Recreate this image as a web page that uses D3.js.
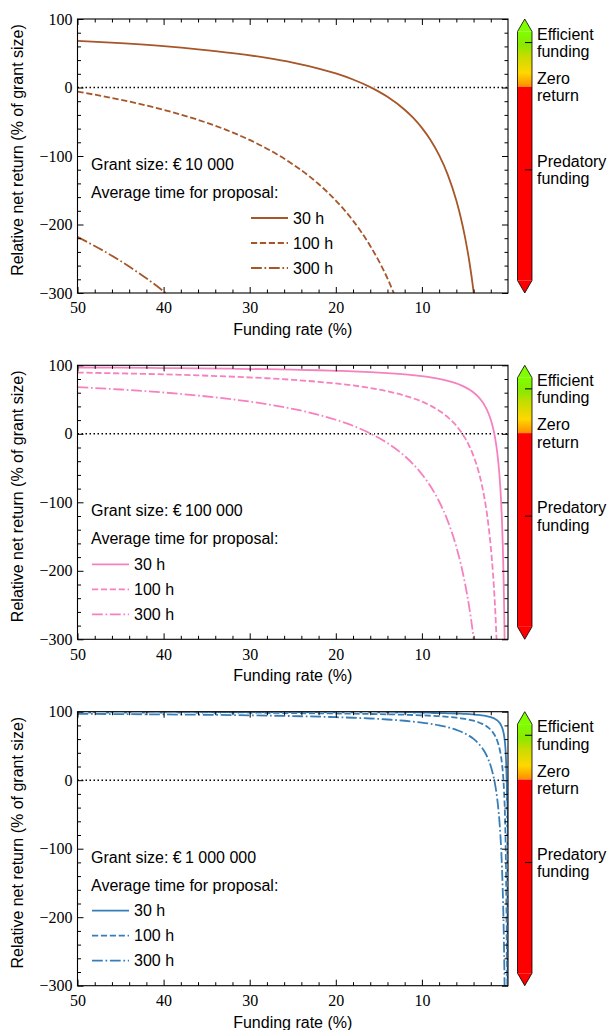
<!DOCTYPE html>
<html>
<head>
<meta charset="utf-8">
<script src="https://cdn.jsdelivr.net/npm/d3@7"></script>
<style>
  body { margin: 0; background: #fff; }
  svg text { font-family: "Liberation Sans", Arial, sans-serif; }
  svg text.ticklab { font-family: "Liberation Serif", "DejaVu Serif", serif !important; font-size: 16px !important; }
</style>
</head>
<body>
<div id="chart"></div>
<script>
// funding rate (%) sample points, shared by every curve
const fundingRate = [50, 45, 40, 36, 32, 28, 25, 22, 20, 18, 16, 14, 12, 11, 10, 9, 8, 7, 6, 5.5, 5, 4.5, 4, 3.5, 3,
  2.75, 2.5, 2.25, 2, 1.75, 1.5, 1.25, 1, 0.9, 0.8, 0.7, 0.6, 0.5, 0.45, 0.4, 0.35, 0.3, 0.25, 0.2, 0.15, 0.12, 0.1,
  0.08, 0.06, 0.05, 0.04, 0.03];

// relative net return (% of grant size) (stops once below -300)
const grant10k_30h = [68.2, 64.7, 60.3, 55.8, 50.3, 43.2, 36.4, 27.7, 20.5, 11.7, 0.6, -13.6, -32.5, -44.5, -59, -76.7,
  -98.8, -127.1, -165, -189.1, -218, -253.3, -297.5, -354.3];
const grant10k_100h = [-6, -17.8, -32.5, -47.2, -65.6, -89.3, -112, -140.9, -165, -194.4, -231.3, -278.6, -341.7];
const grant10k_300h = [-218, -253.3, -297.5, -341.7];

const grant100k_30h = [96.8, 96.5, 96.0, 95.6, 95.0, 94.3, 93.6, 92.8, 92.0, 91.2, 90.1, 88.6, 86.8, 85.5, 84.1, 82.3,
  80.1, 77.3, 73.5, 71.1, 68.2, 64.7, 60.3, 54.6, 47, 42.2, 36.4, 29.3, 20.5, 9.1, -6, -27.2, -59, -76.7, -98.8,
  -127.1, -165, -218, -253.3, -297.5, -354.3];
const grant100k_100h = [89.4, 88.2, 86.8, 85.3, 83.4, 81.1, 78.8, 75.9, 73.5, 70.6, 66.9, 62.1, 55.8, 51.8, 47, 41.1,
  33.8, 24.3, 11.7, 3.6, -6, -17.8, -32.5, -51.4, -76.7, -92.7, -112, -135.6, -165, -202.9, -253.3, -324];
const grant100k_300h = [68.2, 64.7, 60.3, 55.8, 50.3, 43.2, 36.4, 27.7, 20.5, 11.7, 0.6, -13.6, -32.5, -44.5, -59, -76.7,
  -98.8, -127.1, -165, -189.1, -218, -253.3, -297.5, -354.3];

const grant1m_30h = [99.7, 99.6, 99.6, 99.6, 99.5, 99.4, 99.4, 99.3, 99.2, 99.1, 99.0, 98.9, 98.7, 98.6, 98.4, 98.2,
  98.0, 97.7, 97.4, 97.1, 96.8, 96.5, 96.0, 95.5, 94.7, 94.2, 93.6, 92.9, 92.0, 90.9, 89.4, 87.3, 84.1, 82.3, 80.1,
  77.3, 73.5, 68.2, 64.7, 60.3, 54.6, 47, 36.4, 20.5, -6, -32.5, -59, -98.8, -165, -218, -297.5, -430];
const grant1m_100h = [98.9, 98.8, 98.7, 98.5, 98.3, 98.1, 97.9, 97.6, 97.4, 97.1, 96.7, 96.2, 95.6, 95.2, 94.7, 94.1,
  93.4, 92.4, 91.2, 90.4, 89.4, 88.2, 86.8, 84.9, 82.3, 80.7, 78.8, 76.4, 73.5, 69.7, 64.7, 57.6, 47, 41.1, 33.8,
  24.3, 11.7, -6, -17.8, -32.5, -51.4, -76.7, -112, -165, -253.3, -341.7];
const grant1m_300h = [96.8, 96.5, 96.0, 95.6, 95.0, 94.3, 93.6, 92.8, 92.0, 91.2, 90.1, 88.6, 86.8, 85.5, 84.1, 82.3,
  80.1, 77.3, 73.5, 71.1, 68.2, 64.7, 60.3, 54.6, 47, 42.2, 36.4, 29.3, 20.5, 9.1, -6, -27.2, -59, -76.7, -98.8,
  -127.1, -165, -218, -253.3, -297.5, -354.3];

const grantLabels = ["Grant size: \u20AC\u200910 000", "Grant size: \u20AC\u2009100 000", "Grant size: \u20AC\u20091 000 000"];
const hoursLabels = ["30 h", "100 h", "300 h"];
const panelColors = ["#a65628", "#f781bf", "#377eb8"];

const xTicks = [50, 40, 30, 20, 10];
const yTicks = [100, 0, -100, -200, -300];
const colorbarTicks = [80, 0, -150];
const colorbarLabels = [["Efficient", "funding"], ["Zero", "return"], ["Predatory", "funding"]];

// layout
const width = 609, height = 1030;
const plotLeft = 77.5, plotRight = 508;
const panelTops = [19, 365.3, 711.7];
const plotH = 274;
const lineW = 1.8;
const dashes = [null, "6.2,2.7", "10.8,2.7,1.7,2.7"];
const legendXs = [251, 92, 92];
const cbX0 = 517.5, cbX1 = 532, cbExt = 12.5;

const svg = d3.select("#chart").append("svg")
  .attr("width", width)
  .attr("height", height);

const x = d3.scaleLinear().domain([50, 0]).range([plotLeft, plotRight]);

const xMinor = d3.range(2, 50, 2).filter(d => d % 10 !== 0);
const yMinor = d3.range(-280, 100, 20).filter(d => d % 100 !== 0);

// colour ramp for positive returns, red below zero
const cbColor = d3.scaleLinear()
  .domain([0, 25, 55, 75, 100])
  .range(["#ff8c00", "#ffd700", "#c8dc00", "#8ce800", "#7fff00"]);

const defs = svg.append("defs");

const panels = [
  { grant: grantLabels[0], color: panelColors[0], series: [grant10k_30h, grant10k_100h, grant10k_300h] },
  { grant: grantLabels[1], color: panelColors[1], series: [grant100k_30h, grant100k_100h, grant100k_300h] },
  { grant: grantLabels[2], color: panelColors[2], series: [grant1m_30h, grant1m_100h, grant1m_300h] }
];

panels.forEach((p, pi) => {
  const top = panelTops[pi];
  const bottom = top + plotH;
  const y = d3.scaleLinear().domain([100, -300]).range([top, bottom]);
  const g = svg.append("g");

  defs.append("clipPath").attr("id", "clip" + pi)
    .append("rect")
    .attr("x", plotLeft).attr("y", top)
    .attr("width", plotRight - plotLeft).attr("height", plotH);

  // zero line
  g.append("line")
    .attr("x1", plotLeft).attr("x2", plotRight)
    .attr("y1", y(0)).attr("y2", y(0))
    .attr("stroke", "#000").attr("stroke-width", 1.5)
    .attr("stroke-dasharray", "1.5,2.5");

  const line = d3.line()
    .x(d => x(d[0]))
    .y(d => y(d[1]))
    .curve(d3.curveMonotoneX);

  const curves = g.append("g").attr("clip-path", `url(#clip${pi})`);
  p.series.forEach((vals, si) => {
    const pts = vals.map((v, i) => [fundingRate[i], v]);
    curves.append("path")
      .attr("d", line(pts))
      .attr("fill", "none")
      .attr("stroke", "#fff")
      .attr("stroke-width", 3.8)
      .attr("stroke-dasharray", dashes[si]);
    curves.append("path")
      .attr("d", line(pts))
      .attr("fill", "none")
      .attr("stroke", p.color)
      .attr("stroke-width", lineW)
      .attr("stroke-dasharray", dashes[si]);
  });

  // axes with inward ticks on all four sides
  const addAxis = (gen, pos, vals, size, showLabels, pad) => {
    const ag = g.append("g").attr("transform", pos)
      .call(gen.tickValues(vals).tickSize(-size).tickPadding(pad || 0)
        .tickFormat(showLabels ? d3.format("d") : ""));
    ag.attr("font-family", null).attr("font-size", null);
    ag.select(".domain").remove();
    ag.selectAll(".tick line").attr("stroke", "#000").attr("stroke-width", 1);
    ag.selectAll(".tick text").attr("class", "ticklab").attr("fill", "#000");
    return ag;
  };
  addAxis(d3.axisBottom(x), `translate(0,${bottom})`, xTicks, 6, true, 9);
  addAxis(d3.axisBottom(x), `translate(0,${bottom})`, xMinor, 3.5, false);
  addAxis(d3.axisTop(x), `translate(0,${top})`, xTicks, 6, false);
  addAxis(d3.axisTop(x), `translate(0,${top})`, xMinor, 3.5, false);
  addAxis(d3.axisLeft(y), `translate(${plotLeft},0)`, yTicks, 6, true, 5);
  addAxis(d3.axisLeft(y), `translate(${plotLeft},0)`, yMinor, 3.5, false);
  addAxis(d3.axisRight(y), `translate(${plotRight},0)`, yTicks, 6, false);
  addAxis(d3.axisRight(y), `translate(${plotRight},0)`, yMinor, 3.5, false);

  // frame
  g.append("rect")
    .attr("x", plotLeft).attr("y", top)
    .attr("width", plotRight - plotLeft).attr("height", plotH)
    .attr("fill", "none").attr("stroke", "#000").attr("stroke-width", 1.1);

  // axis titles
  g.append("text")
    .attr("x", (plotLeft + plotRight) / 2).attr("y", top + 316)
    .attr("text-anchor", "middle").attr("font-size", 16)
    .text("Funding rate (%)");
  g.append("text")
    .attr("transform", `translate(23,${top + 131}) rotate(-90)`)
    .attr("text-anchor", "middle").attr("font-size", 16)
    .text("Relative net return (% of grant size)");

  // legend
  g.append("text").attr("x", 91).attr("y", top + 151).attr("font-size", 16).text(p.grant);
  g.append("text").attr("x", 91).attr("y", top + 179).attr("font-size", 16).text("Average time for proposal:");
  const lx = legendXs[pi];
  const legendYs = [199, 224, 249];
  hoursLabels.forEach((h, si) => {
    const ly = top + legendYs[si];
    g.append("line")
      .attr("x1", lx).attr("x2", lx + 37)
      .attr("y1", ly).attr("y2", ly)
      .attr("stroke", p.color).attr("stroke-width", lineW)
      .attr("stroke-dasharray", dashes[si]);
    g.append("text")
      .attr("x", lx + 42).attr("y", ly + 5.5)
      .attr("font-size", 16).text(h);
  });

  // colorbar
  const cbY = d3.scaleLinear().domain([100, -350]).range([top + cbExt, bottom - cbExt]);
  const gradId = "cbgrad" + pi;
  const grad = defs.append("linearGradient").attr("id", gradId)
    .attr("gradientUnits", "userSpaceOnUse")
    .attr("x1", 0).attr("x2", 0)
    .attr("y1", cbY(100)).attr("y2", cbY(0));
  cbColor.domain().slice().reverse().forEach(v => {
    grad.append("stop").attr("offset", (100 - v) / 100).attr("stop-color", cbColor(v));
  });
  const cbMid = (cbX0 + cbX1) / 2;
  g.append("rect")
    .attr("x", cbX0).attr("y", cbY(100))
    .attr("width", cbX1 - cbX0).attr("height", cbY(0) - cbY(100))
    .attr("fill", `url(#${gradId})`);
  g.append("rect")
    .attr("x", cbX0).attr("y", cbY(0))
    .attr("width", cbX1 - cbX0).attr("height", cbY(-350) - cbY(0))
    .attr("fill", "#ff0000");
  g.append("path")
    .attr("d", `M${cbX0},${cbY(100)}L${cbMid},${top}L${cbX1},${cbY(100)}Z`)
    .attr("fill", "#7fff00");
  g.append("path")
    .attr("d", `M${cbX0},${cbY(-350)}L${cbMid},${bottom}L${cbX1},${cbY(-350)}Z`)
    .attr("fill", "#ff0000");
  g.append("path")
    .attr("d", `M${cbX0},${cbY(100)}L${cbMid},${top}L${cbX1},${cbY(100)}L${cbX1},${cbY(-350)}L${cbMid},${bottom}L${cbX0},${cbY(-350)}Z`)
    .attr("fill", "none").attr("stroke", "#000").attr("stroke-width", 0.8);

  colorbarTicks.forEach((t, ti) => {
    if (t !== 0) {
      g.append("line")
        .attr("x1", cbX1 - 7).attr("x2", cbX1)
        .attr("y1", cbY(t)).attr("y2", cbY(t))
        .attr("stroke", "#000").attr("stroke-width", 1);
    }
    const lab = g.append("text")
      .attr("x", 537).attr("y", cbY(t) - 3)
      .attr("font-size", 16);
    colorbarLabels[ti].forEach((w, wi) => {
      lab.append("tspan").attr("x", 537).attr("dy", wi === 0 ? 0 : 17.5).text(w);
    });
  });
});
</script>
</body>
</html>
